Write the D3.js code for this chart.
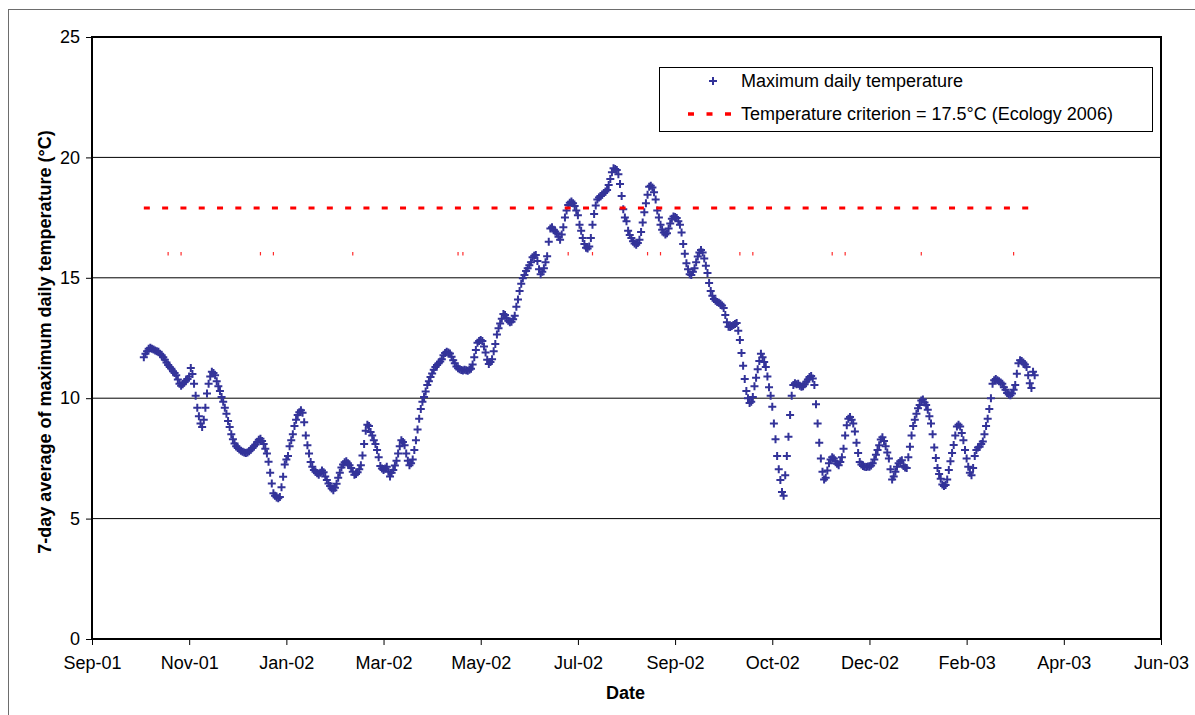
<!DOCTYPE html>
<html>
<head>
<meta charset="utf-8">
<script src="https://cdn.jsdelivr.net/npm/d3@7"></script>
<style>
  html, body { margin: 0; padding: 0; background: #ffffff; }
  svg { display: block; font-family: "Liberation Sans", Arial, sans-serif; }
</style>
</head>
<body>
<svg id="chart" width="1195" height="715"></svg>
<script>
// ---- Data -------------------------------------------------------------
// 7-day average of maximum daily temperature (°C), one value per day
const seriesStart = "2001-10-08";
const maxTemp7day = [
  11.70, 11.85, 11.95, 12.05, 12.10, 12.05, 12.02, 11.98, 11.95, 11.93,
  11.85, 11.78, 11.70, 11.60, 11.48, 11.38, 11.30, 11.22, 11.12, 11.05,
  10.95, 10.78, 10.60, 10.52, 10.58, 10.66, 10.72, 10.80, 10.90, 11.25,
  11.00, 10.60, 10.10, 9.60, 9.25, 8.95, 8.80, 9.10, 9.60, 10.20,
  10.60, 10.90, 11.10, 11.05, 10.95, 10.70, 10.50, 10.30, 10.05, 9.85,
  9.60, 9.35, 9.05, 8.80, 8.50, 8.30, 8.12, 8.00, 7.93, 7.87,
  7.82, 7.78, 7.74, 7.72, 7.74, 7.80, 7.86, 7.93, 8.00, 8.08,
  8.18, 8.27, 8.32, 8.22, 8.10, 7.90, 7.70, 7.36, 6.90, 6.46,
  6.05, 5.95, 5.88, 5.84, 5.90, 6.30, 6.74, 7.25, 7.45, 7.60,
  8.00, 8.25, 8.50, 8.85, 9.10, 9.30, 9.42, 9.50, 9.40, 9.00,
  8.45, 8.05, 7.70, 7.35, 7.15, 7.02, 6.95, 6.88, 6.82, 6.90,
  7.00, 6.92, 6.75, 6.60, 6.46, 6.35, 6.25, 6.18, 6.28, 6.45,
  6.70, 6.90, 7.12, 7.25, 7.34, 7.38, 7.30, 7.22, 7.10, 6.95,
  6.82, 6.85, 6.92, 7.05, 7.22, 7.62, 8.10, 8.65, 8.90, 8.85,
  8.60, 8.45, 8.25, 8.10, 7.85, 7.55, 7.18, 7.08, 7.02, 7.08,
  7.15, 6.95, 6.75, 6.90, 7.02, 7.20, 7.40, 7.70, 8.00, 8.25,
  8.18, 8.05, 7.70, 7.40, 7.22, 7.30, 7.45, 7.85, 8.25, 8.70,
  9.15, 9.55, 9.85, 10.05, 10.28, 10.55, 10.70, 10.88, 11.03, 11.18,
  11.30, 11.38, 11.45, 11.52, 11.62, 11.78, 11.88, 11.93, 11.90, 11.86,
  11.72, 11.58, 11.45, 11.32, 11.24, 11.20, 11.17, 11.15, 11.18, 11.16,
  11.14, 11.18, 11.22, 11.40, 11.70, 12.00, 12.30, 12.38, 12.42, 12.38,
  12.15, 11.90, 11.60, 11.42, 11.50, 11.62, 11.95, 12.25, 12.65, 12.90,
  13.10, 13.30, 13.50, 13.45, 13.32, 13.22, 13.15, 13.18, 13.28, 13.42,
  13.80, 14.10, 14.45, 14.75, 14.98, 15.12, 15.28, 15.40, 15.52, 15.65,
  15.85, 15.92, 15.95, 15.70, 15.35, 15.15, 15.25, 15.40, 15.65, 15.90,
  16.50, 17.05, 17.10, 17.00, 16.92, 16.85, 16.70, 16.58, 16.80, 17.10,
  17.50, 17.80, 18.02, 18.12, 18.17, 18.10, 17.98, 17.80, 17.60, 17.20,
  16.95, 16.65, 16.40, 16.25, 16.22, 16.30, 16.65, 17.20, 17.65, 18.00,
  18.25, 18.33, 18.40, 18.45, 18.52, 18.58, 18.65, 18.85, 19.10, 19.38,
  19.55, 19.52, 19.48, 19.30, 18.90, 18.40, 17.85, 17.50, 17.35, 16.95,
  16.78, 16.65, 16.52, 16.42, 16.37, 16.45, 16.58, 16.90, 17.30, 17.72,
  18.10, 18.45, 18.78, 18.82, 18.75, 18.55, 18.25, 17.80, 17.50, 17.20,
  17.00, 16.88, 16.80, 16.85, 17.05, 17.25, 17.45, 17.55, 17.52, 17.48,
  17.35, 17.20, 16.88, 16.40, 16.00, 15.60, 15.35, 15.15, 15.12, 15.25,
  15.40, 15.65, 15.88, 16.05, 16.15, 16.05, 15.80, 15.50, 15.20, 14.78,
  14.45, 14.25, 14.12, 14.05, 14.00, 13.96, 13.92, 13.85, 13.75, 13.45,
  13.15, 12.97, 12.96, 13.00, 13.04, 13.08, 13.12, 12.80, 12.42, 11.88,
  11.35, 10.80, 10.30, 10.00, 9.80, 9.85, 10.05, 10.50, 10.85, 11.20,
  11.55, 11.85, 11.70, 11.50, 11.30, 10.90, 10.45, 10.10, 9.65, 8.95,
  8.30, 7.60, 7.05, 6.60, 6.10, 5.95, 6.80, 7.60, 8.40, 9.30,
  10.10, 10.55, 10.62, 10.58, 10.60, 10.52, 10.48, 10.50, 10.58, 10.68,
  10.78, 10.88, 10.92, 10.82, 10.55, 9.75, 8.95, 8.15, 7.50, 6.95,
  6.62, 6.70, 7.00, 7.30, 7.45, 7.55, 7.50, 7.38, 7.28, 7.22,
  7.35, 7.55, 7.90, 8.45, 8.88, 9.15, 9.22, 9.10, 8.95, 8.62,
  8.15, 7.72, 7.35, 7.25, 7.18, 7.15, 7.14, 7.16, 7.15, 7.20,
  7.30, 7.45, 7.65, 7.85, 8.05, 8.28, 8.38, 8.22, 8.00, 7.75,
  7.50, 7.05, 6.62, 6.75, 6.95, 7.15, 7.30, 7.38, 7.42, 7.18,
  7.12, 7.10, 7.55, 7.98, 8.45, 8.85, 9.10, 9.35, 9.58, 9.72,
  9.90, 9.95, 9.82, 9.72, 9.52, 9.25, 8.95, 8.50, 7.95, 7.52,
  7.10, 6.85, 6.65, 6.42, 6.35, 6.40, 6.62, 7.02, 7.38, 7.72,
  8.06, 8.45, 8.82, 8.90, 8.82, 8.55, 8.25, 7.85, 7.50, 7.15,
  6.90, 6.80, 7.10, 7.60, 7.85, 7.95, 7.98, 8.10, 8.20, 8.50,
  8.85, 9.15, 9.55, 10.00, 10.60, 10.75, 10.80, 10.75, 10.70, 10.65,
  10.60, 10.45, 10.35, 10.22, 10.15, 10.12, 10.20, 10.35, 10.55, 11.02,
  11.45, 11.58, 11.55, 11.48, 11.40, 11.30, 10.95, 10.62, 10.42, 11.10,
  10.95
];

// Temperature criterion line
const criterionLevel = 17.9;
const criterionLabel = "Temperature criterion = 17.5°C (Ecology 2006)";
const seriesLabel = "Maximum daily temperature";

// Short red ticks drawn beneath the criterion line
const criterionTickLevel = 16;
const criterionTickDates = [
  "2001-10-23", "2001-10-31", "2001-12-19", "2001-12-27", "2002-02-14",
  "2002-04-20", "2002-04-23", "2002-06-27", "2002-07-12", "2002-08-15",
  "2002-08-23", "2002-10-11", "2002-10-19", "2002-12-07", "2002-12-15",
  "2003-01-31", "2003-03-29"
];

// Axes
const axisStart = "2001-09-06";
const axisStepDays = 60;
const xTickLabels = ["Sep-01", "Nov-01", "Jan-02", "Mar-02", "May-02", "Jul-02",
                     "Sep-02", "Oct-02", "Dec-02", "Feb-03", "Apr-03", "Jun-03"];
const yTicks = [0, 5, 10, 15, 20, 25];
const xTitle = "Date";
const yTitle = "7-day average of maximum daily temperature (°C)";

// ---- Layout -----------------------------------------------------------
const parse = d3.timeParse("%Y-%m-%d");
const plot = { left: 92, right: 1161, top: 37, bottom: 639 };
const markerColor = "#333399";
const criterionColor = "#ff0000";
const plusPath = "M-4,0H4M0,-4V4";

const svg = d3.select("#chart");

const t0 = parse(axisStart);
const tickDates = xTickLabels.map((_, i) => d3.timeDay.offset(t0, i * axisStepDays));
const x = d3.scaleTime()
  .domain([tickDates[0], tickDates[tickDates.length - 1]])
  .range([plot.left, plot.right]);
const y = d3.scaleLinear()
  .domain([d3.min(yTicks), d3.max(yTicks)])
  .range([plot.bottom, plot.top]);

const start = parse(seriesStart);
const points = maxTemp7day.map((v, i) => ({ date: d3.timeDay.offset(start, i), value: v }));

// outer chart frame
svg.append("rect")
  .attr("x", 8.5).attr("y", 9.5)
  .attr("width", 1200).attr("height", 720)
  .attr("fill", "none").attr("stroke", "#6d6d6d").attr("stroke-width", 1);

// horizontal gridlines
svg.append("g")
  .selectAll("line")
  .data(yTicks.filter(t => t > 0 && t < d3.max(yTicks)))
  .join("line")
  .attr("x1", plot.left).attr("x2", plot.right)
  .attr("y1", d => y(d)).attr("y2", d => y(d))
  .attr("stroke", "#000").attr("stroke-width", 1);

// temperature markers ("+")
svg.append("g")
  .selectAll("path")
  .data(points)
  .join("path")
  .attr("transform", d => `translate(${x(d.date)},${y(d.value)})`)
  .attr("d", plusPath)
  .attr("stroke", markerColor)
  .attr("stroke-width", 2)
  .attr("fill", "none");

// criterion line (dashed)
svg.append("line")
  .attr("x1", x(points[0].date))
  .attr("x2", x(points[points.length - 1].date))
  .attr("y1", y(criterionLevel)).attr("y2", y(criterionLevel))
  .attr("stroke", criterionColor)
  .attr("stroke-width", 3)
  .attr("stroke-dasharray", "6,12.3");

// short red ticks
svg.append("g")
  .selectAll("line")
  .data(criterionTickDates.map(parse))
  .join("line")
  .attr("x1", d => x(d)).attr("x2", d => x(d))
  .attr("y1", y(criterionTickLevel) - 1.7)
  .attr("y2", y(criterionTickLevel) + 1.7)
  .attr("stroke", "#ff2a2a")
  .attr("stroke-width", 1.2);

// y axis
const yAxis = svg.append("g")
  .attr("transform", `translate(${plot.left},0)`)
  .call(d3.axisLeft(y).tickValues(yTicks).tickSize(6).tickPadding(6));
yAxis.select(".domain").remove();
yAxis.selectAll("line").attr("stroke", "#000");
yAxis.selectAll("text")
  .attr("font-size", 18).attr("fill", "#000")
  .attr("font-family", "Liberation Sans, Arial, sans-serif");

// x axis
const xAxis = svg.append("g")
  .attr("transform", `translate(0,${plot.bottom})`)
  .call(d3.axisBottom(x).tickValues(tickDates)
    .tickFormat((d, i) => xTickLabels[i])
    .tickSize(6).tickPadding(11));
xAxis.select(".domain").remove();
xAxis.selectAll("line").attr("stroke", "#000");
xAxis.selectAll("text")
  .attr("font-size", 18).attr("fill", "#000")
  .attr("font-family", "Liberation Sans, Arial, sans-serif");

// plot border
svg.append("rect")
  .attr("x", plot.left).attr("y", plot.top)
  .attr("width", plot.right - plot.left)
  .attr("height", plot.bottom - plot.top)
  .attr("fill", "none").attr("stroke", "#000").attr("stroke-width", 2);

// axis titles
svg.append("text")
  .attr("x", (plot.left + plot.right) / 2 - 1)
  .attr("y", 699)
  .attr("text-anchor", "middle")
  .attr("font-size", 18).attr("font-weight", "bold")
  .text(xTitle);

svg.append("text")
  .attr("transform", `translate(51,${(plot.top + plot.bottom) / 2 + 4}) rotate(-90)`)
  .attr("text-anchor", "middle")
  .attr("font-size", 18).attr("font-weight", "bold")
  .text(yTitle);

// legend
const legend = svg.append("g");
legend.append("rect")
  .attr("x", 659.5).attr("y", 67.5)
  .attr("width", 493).attr("height", 64)
  .attr("fill", "#fff").attr("stroke", "#000").attr("stroke-width", 1);
legend.append("path")
  .attr("transform", "translate(713,81)")
  .attr("d", plusPath)
  .attr("stroke", markerColor).attr("stroke-width", 2).attr("fill", "none");
legend.append("text")
  .attr("x", 741).attr("y", 81).attr("dy", "0.35em")
  .attr("font-size", 18).text(seriesLabel);
legend.append("line")
  .attr("x1", 688).attr("x2", 735)
  .attr("y1", 114).attr("y2", 114)
  .attr("stroke", criterionColor).attr("stroke-width", 3.5)
  .attr("stroke-dasharray", "6,12.5");
legend.append("text")
  .attr("x", 741).attr("y", 114).attr("dy", "0.35em")
  .attr("font-size", 18).text(criterionLabel);
</script>
</body>
</html>
